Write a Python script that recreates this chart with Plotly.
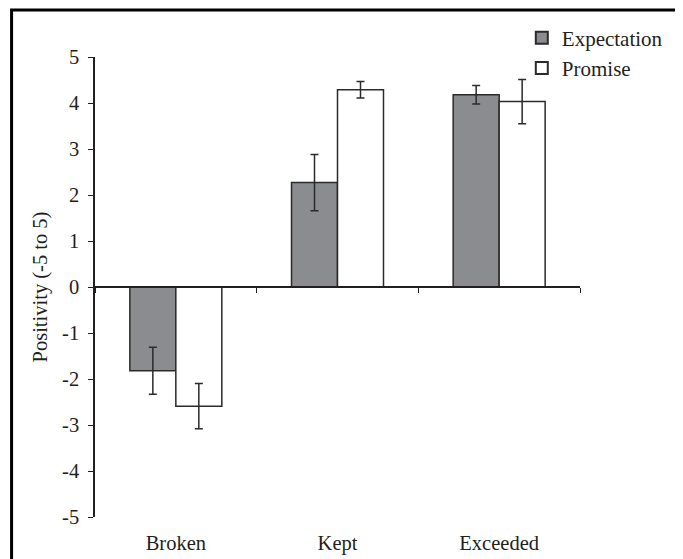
import plotly.graph_objects as go

categories = ["Broken", "Kept", "Exceeded"]
expectation = [-1.82, 2.27, 4.18]
expectation_err = [0.51, 0.61, 0.20]
promise = [-2.59, 4.29, 4.03]
promise_err = [0.49, 0.18, 0.48]
ytick_vals = [5, 4, 3, 2, 1, 0, -1, -2, -3, -4, -5]
ytick_text = ["5", "4", "3", "2", "1", "0", "-1", "-2", "-3", "-4", "-5"]

ink = "#231f20"
font = "Liberation Serif, Times New Roman, serif"

fig = go.Figure()
fig.add_trace(go.Bar(
    name="Expectation", x=categories, y=expectation,
    marker=dict(color="#8b8c8f", line=dict(color="#2b2b2b", width=1.5)),
    error_y=dict(type="data", array=expectation_err, color="#2b2b2b", thickness=1.5, width=4),
))
fig.add_trace(go.Bar(
    name="Promise", x=categories, y=promise,
    marker=dict(color="white", line=dict(color="#2b2b2b", width=1.5)),
    error_y=dict(type="data", array=promise_err, color="#2b2b2b", thickness=1.5, width=4),
))
# invisible trace to carry the zero-line axis
fig.add_trace(go.Scatter(x=categories, y=[0, 0, 0], xaxis="x2", mode="none",
                         showlegend=False, hoverinfo="skip"))

# page body has an 8px default margin, so the figure is 8px smaller
fig.update_layout(
    width=675, height=551,
    margin=dict(l=87, r=103, t=49, b=42, autoexpand=False),
    paper_bgcolor="white", plot_bgcolor="white",
    font=dict(family=font, color=ink, size=20),
    barmode="group", bargap=0.431, bargroupgap=0,
    showlegend=True,
    legend=dict(x=0.88, xanchor="left", y=1.0857, yanchor="top",
                font=dict(size=21, family=font, color=ink),
                bgcolor="rgba(0,0,0,0)", tracegroupgap=0, itemsizing="constant"),
    xaxis=dict(type="category", categoryorder="array", categoryarray=categories,
               range=[-0.5, 2.5], showline=False, showgrid=False, zeroline=False,
               ticks="", ticklabelstandoff=11, tickfont=dict(size=20.5)),
    xaxis2=dict(type="category", categoryorder="array", categoryarray=categories,
                overlaying="x", anchor="free", position=0.5, side="bottom",
                range=[-0.5, 2.5], showline=True, linecolor=ink, linewidth=2,
                ticks="outside", tickson="boundaries", ticklen=5, tickwidth=1.2,
                tickcolor=ink, showticklabels=False, showgrid=False, zeroline=False),
    yaxis=dict(range=[-5, 5], tickvals=ytick_vals, ticktext=ytick_text,
               showline=True, linecolor=ink, linewidth=1.5, ticks="outside",
               ticklen=5, tickwidth=1.2, tickcolor=ink, showgrid=False,
               zeroline=False, ticklabelstandoff=5, tickfont=dict(size=20.5),
               title=dict(text="Positivity (-5 to 5)", font=dict(size=20.5), standoff=9)),
    shapes=[dict(type="rect", xref="paper", yref="paper",
                 x0=-0.172, x1=1.202, y0=-0.11, y1=1.102,
                 line=dict(color="black", width=3), layer="below")],
)

fig.write_html("out.html")
